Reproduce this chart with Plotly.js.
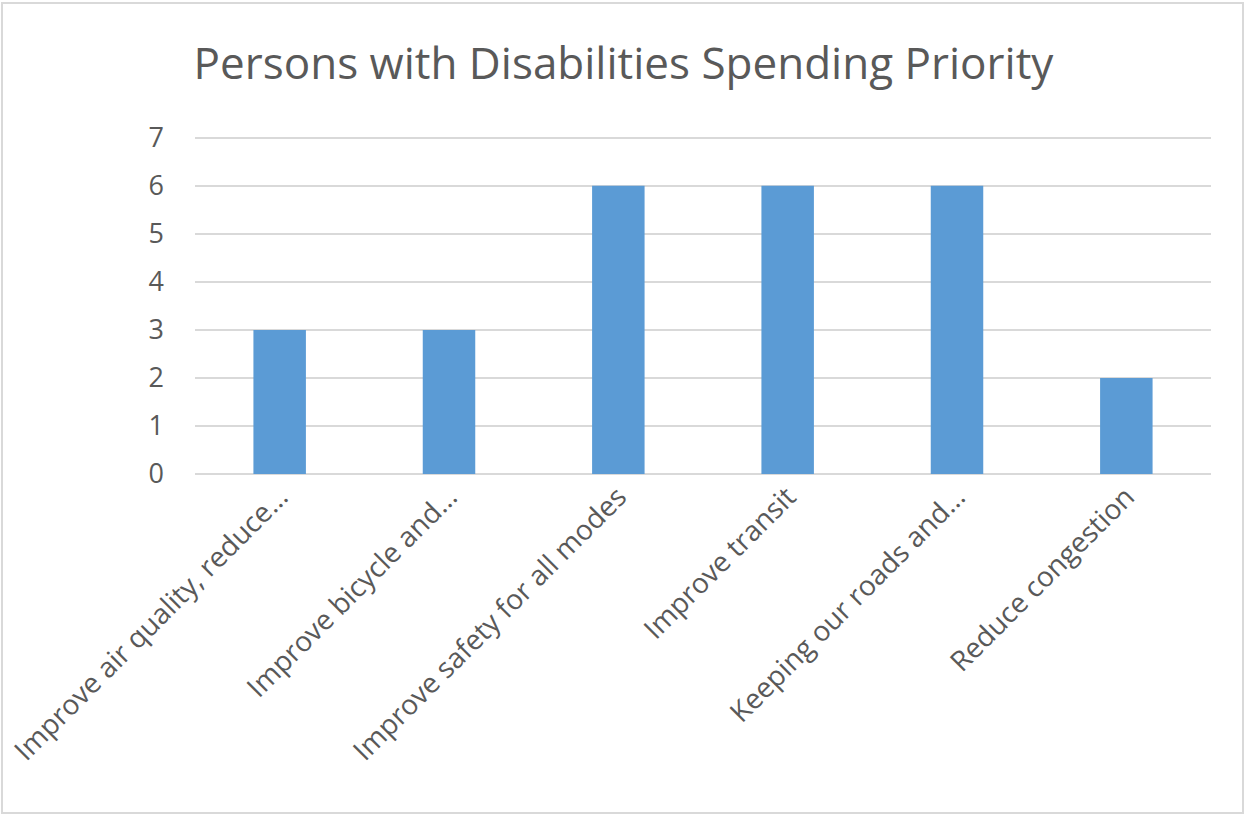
<!DOCTYPE html>
<html>
<head>
<meta charset="utf-8">
<script src="https://cdn.plot.ly/plotly-3.0.1.min.js"></script>
<style>
html,body{margin:0;padding:0;background:#fff;}
#wrap{position:relative;width:1247px;height:817px;}
#chart{width:1247px;height:817px;}
#border{position:absolute;left:1px;top:2px;width:1243px;height:812px;border:2px solid #d9d9d9;pointer-events:none;box-sizing:border-box;}
</style>
</head>
<body>
<div id="wrap"><div id="chart"></div><div id="border"></div></div>
<script>
const categories = [
  "Improve air quality, reduce…",
  "Improve bicycle and…",
  "Improve safety for all modes",
  "Improve transit",
  "Keeping our roads and…",
  "Reduce congestion"
];
const values = [3, 3, 6, 6, 6, 2];
const titleText = "Persons with Disabilities Spending Priority";
const yTicks = [0, 1, 2, 3, 4, 5, 6, 7];

const fontFam = "Open Sans, Noto Sans, sans-serif";
const grey = "#595959";

Plotly.newPlot("chart", [{
  type: "bar",
  x: categories,
  y: values,
  marker: {color: "#5b9bd5"},
  hoverinfo: "x+y"
}], {
  width: 1247, height: 817,
  margin: {l: 195, r: 36, t: 134, b: 343},
  paper_bgcolor: "#ffffff",
  plot_bgcolor: "#ffffff",
  bargap: 0.69,
  showlegend: false,
  title: {
    text: titleText,
    font: {family: fontFam, size: 44, color: grey},
    x: 0.5, xref: "container", xanchor: "center",
    y: 1 - 64/817, yref: "container", yanchor: "middle"
  },
  xaxis: {
    type: "category",
    tickangle: -45,
    tickfont: {family: fontFam, size: 28, color: grey},
    showgrid: false,
    showline: false,
    ticks: "",
    zeroline: false
  },
  yaxis: {
    range: [0, 7.08],
    tickvals: yTicks,
    ticktext: yTicks.map(String),
    tickfont: {family: fontFam, size: 27, color: grey},
    showgrid: true,
    gridcolor: "#d9d9d9",
    gridwidth: 2,
    zeroline: true,
    zerolinecolor: "#d9d9d9",
    zerolinewidth: 2,
    showline: false,
    ticks: "",
    ticklabelstandoff: 30
  }
}, {displayModeBar: false, staticPlot: true});
</script>
</body>
</html>
